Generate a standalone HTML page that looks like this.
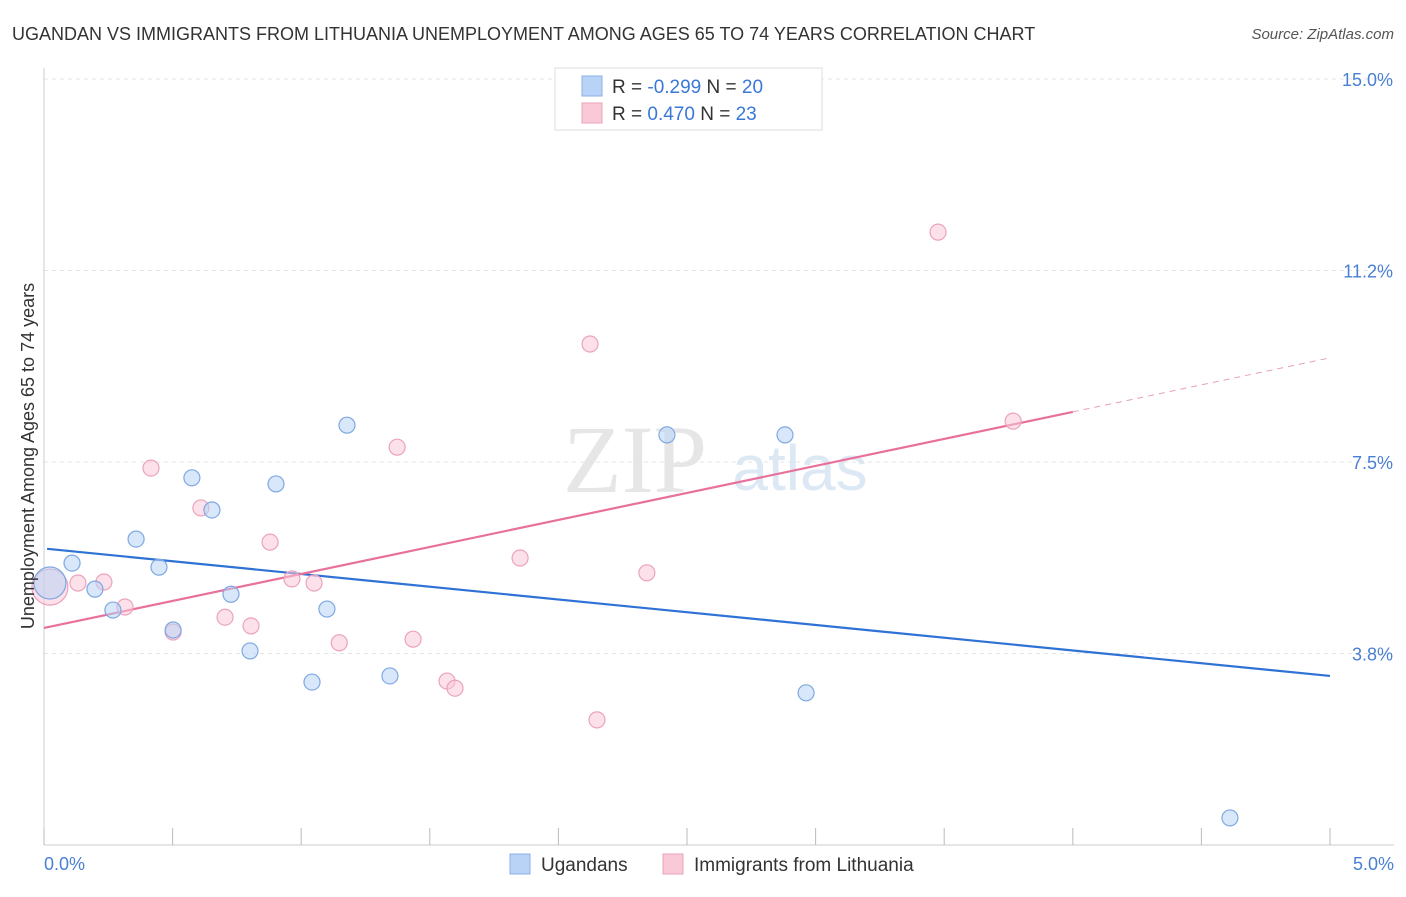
<!DOCTYPE html>
<html><head><meta charset="utf-8"><style>
body{margin:0;background:#fff;font-family:"Liberation Sans",sans-serif}
</style></head><body>
<svg id="chart" width="1406" height="892" xmlns="http://www.w3.org/2000/svg" font-family="Liberation Sans, sans-serif">
<text x="12" y="40" font-size="18" fill="#333">UGANDAN VS IMMIGRANTS FROM LITHUANIA UNEMPLOYMENT AMONG AGES 65 TO 74 YEARS CORRELATION CHART</text>
<text x="1394" y="39" font-size="15" fill="#555" font-style="italic" text-anchor="end">Source: ZipAtlas.com</text>
<text x="635" y="492" font-size="96" fill="#e6e6e6" font-family="Liberation Serif, serif" text-anchor="middle">ZIP</text>
<text x="800" y="490" font-size="64" fill="#dde8f5" text-anchor="middle">atlas</text>
<g id="grid"></g><g id="axes"></g><g id="trends"></g><g id="points"></g>
<text transform="translate(34,456) rotate(-90)" font-size="18" fill="#333" text-anchor="middle">Unemployment Among Ages 65 to 74 years</text>
<text x="44" y="870" font-size="18" fill="#4a7fd4">0.0%</text>
<text x="1394" y="870" font-size="18" fill="#4a7fd4" text-anchor="end">5.0%</text>
<g>
<rect x="555" y="68" width="267" height="62" fill="#fff" stroke="#ddd"/>
<rect x="582" y="76" width="20" height="20" fill="#b8d3f5" stroke="#8ab0e6"/>
<rect x="582" y="103" width="20" height="20" fill="#f9c9d8" stroke="#eba3bc"/>
<text x="612" y="93" font-size="19" fill="#333">R = <tspan fill="#3a78d8">-0.299</tspan>   N = <tspan fill="#3a78d8">20</tspan></text>
<text x="612" y="120" font-size="19" fill="#333">R =  <tspan fill="#3a78d8">0.470</tspan>   N =  <tspan fill="#3a78d8">23</tspan></text>
</g>
<g>
<rect x="510" y="854" width="20" height="20" fill="#b8d3f5" stroke="#8ab0e6"/>
<text x="541" y="871" font-size="19" fill="#333">Ugandans</text>
<rect x="663" y="854" width="20" height="20" fill="#f9c9d8" stroke="#eba3bc"/>
<text x="694" y="871" font-size="19" fill="#333">Immigrants from Lithuania</text>
</g>
</svg>
<script>
const yTicks=[3.75,7.5,11.25,15];
const yTickLabels=["3.8%","7.5%","11.2%","15.0%"];
const xTicks=[0,0.5,1,1.5,2,2.5,3,3.5,4,4.5,5];
const blueX=[0.023,0.109,0.198,0.268,0.358,0.447,0.502,0.575,0.653,0.727,0.801,0.902,1.042,1.100,1.178,1.345,2.422,2.881,2.963,4.611];
const blueY=[5.13,5.52,5.01,4.60,5.99,5.44,4.21,7.19,6.56,4.91,3.80,7.07,3.19,4.62,8.22,3.31,8.03,8.03,2.98,0.53];
const pinkX=[0.023,0.132,0.233,0.315,0.416,0.502,0.610,0.704,0.805,0.879,0.964,1.050,1.148,1.373,1.435,1.567,1.598,1.851,2.123,2.150,2.344,3.476,3.768];
const pinkY=[5.05,5.13,5.15,4.66,7.38,4.17,6.60,4.46,4.29,5.93,5.21,5.13,3.96,7.79,4.03,3.21,3.07,5.62,9.81,2.45,5.33,12.00,8.30];
const blueTrendX=[0.012,5.0], blueTrendY=[5.80,3.31];
const pinkTrendX=[0,4.0,5.0], pinkTrendY=[4.25,8.48,9.54];
const NS="http://www.w3.org/2000/svg";
const xs=v=>44+v*257.2, ys=v=>845-v*51.07;
function mk(tag,attrs,parent){const e=document.createElementNS(NS,tag);for(const k in attrs)e.setAttribute(k,attrs[k]);document.getElementById(parent).appendChild(e);return e;}
yTicks.forEach((t,i)=>{
 const l=mk('line',{x1:44,x2:1394,y1:ys(t),y2:ys(t),stroke:'#e4e4e4','stroke-dasharray':'4,4'},'grid');
 
 
 const tx=mk('text',{x:1393,y:ys(t)+7,'font-size':18,fill:'#4a7fd4','text-anchor':'end'},'grid');
 tx.textContent=yTickLabels[i];
 
 
});
const ax=mk('line',{x1:44,x2:1394,y1:845,y2:845,stroke:'#ccc'},'axes');


const ay=mk('line',{x1:44,x2:44,y1:68,y2:845,stroke:'#ccc'},'axes');


xTicks.forEach(t=>{
 const l=mk('line',{x1:xs(t),x2:xs(t),y1:828,y2:845,stroke:'#bbb'},'axes');
 
 
});
const bt=mk('line',{x1:xs(blueTrendX[0]),y1:ys(blueTrendY[0]),x2:xs(blueTrendX[1]),y2:ys(blueTrendY[1]),stroke:'#2f72d6','stroke-width':2.2},'trends');


const pt=mk('line',{x1:xs(pinkTrendX[0]),y1:ys(pinkTrendY[0]),x2:xs(pinkTrendX[1]),y2:ys(pinkTrendY[1]),stroke:'#e8709a','stroke-width':2.2},'trends');


const pd=mk('line',{x1:xs(pinkTrendX[1]),y1:ys(pinkTrendY[1]),x2:xs(pinkTrendX[2]),y2:ys(pinkTrendY[2]),stroke:'#e8a0b8','stroke-width':1,'stroke-dasharray':'6,5'},'trends');


pinkX.forEach((x,i)=>{
 const c=mk('circle',{cx:xs(x),cy:ys(pinkY[i]),r:i===0?18:8,fill:'#f9c9d8','fill-opacity':0.55,stroke:'#eba3bc','stroke-width':1.2},'points');
 
 
});
blueX.forEach((x,i)=>{
 const c=mk('circle',{cx:xs(x),cy:ys(blueY[i]),r:i===0?16:8,fill:'#b8d3f5','fill-opacity':0.55,stroke:'#7fa8e2','stroke-width':1.2},'points');
 
 
});
</script>
</body></html>
